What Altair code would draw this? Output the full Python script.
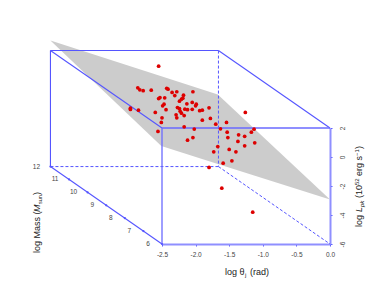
import altair as alt
import pandas as pd

# readings in data units: log theta_j (rad), log L_pk
theta = [-2.55,-2.86,-2.83,-2.78,-2.66,-2.43,-2.41,-2.35,-2.28,-2.31,-2.18,-2.04,-2.53,-2.55,-2.46,-2.19,-2.21,-2.24,-2.13,-2.05,-2.00,-1.99,-2.47,-2.49,-2.27,-2.24,-2.16,-2.12,-2.05,-2.23,-2.44,-1.94,-2.97,-2.97,-2.85,-2.60,-2.21,-2.17,-2.29,-2.28,-2.50,-2.51,-2.17,-2.02,-2.56,-2.04,-2.12,-1.90,-1.80,-1.90,-1.78,-1.70,-1.54,-1.26,-1.63,-1.53,-1.13,-1.17,-1.36,-1.27,-1.52,-1.37,-1.12,-1.27,-1.67,-1.50,-1.73,-1.40,-1.46,-1.59,-1.80,-1.61,-1.15]
lum = [6.26,4.77,4.63,4.57,4.61,4.74,4.68,4.45,4.50,4.24,4.26,4.50,4.10,4.03,4.08,4.06,3.99,3.85,3.67,3.76,3.53,3.64,3.64,3.53,3.41,3.34,3.30,3.26,3.29,3.16,3.26,3.19,3.37,3.28,3.23,3.07,3.02,2.86,2.91,2.70,2.70,2.38,2.08,1.93,1.76,1.34,1.16,3.23,3.39,2.54,2.66,2.26,2.38,3.07,1.94,1.71,1.92,1.71,1.53,1.43,1.34,1.07,0.98,0.77,0.72,0.52,0.36,0.36,-0.26,-0.43,-0.72,-2.15,-3.81]

plane_x = [-4.16,-2.51,-1.67,0.0]
plane_top = [8.03,5.57,4.31,-2.93]
plane_bot = [8.03,0.76,-0.48,-2.93]

front_edges = [(-2.5,2,0,2),(-2.5,-6,-2.5,2)]
solid_edges = [
    (-4.16,7.34,-1.66,7.34),(-4.16,7.34,-4.16,-0.66),
    (-4.16,7.34,-2.5,2),(-1.66,7.34,0,2),(-4.16,-0.66,-2.5,-6),
]
dashed_edges = [(-4.16,-0.66,-1.66,-0.66),(-1.66,7.34,-1.66,-0.66),(-1.66,-0.66,0,-6)]

mass_labels = ["6","7","8","9","10","11","12"]
mass_x = [-2.5,-2.777,-3.053,-3.33,-3.607,-3.883,-4.16]
mass_y = [-6,-5.11,-4.22,-3.33,-2.44,-1.55,-0.66]

BLUE = "#5555ff"
FONT = "Liberation Sans"
W, H = 168, 116
xs = alt.Scale(domain=[-2.5,0], nice=False, zero=False)
ys = alt.Scale(domain=[-6,2], nice=False, zero=False)

xaxis = alt.Axis(values=[-2.5,-2,-1.5,-1,-0.5,0], title=None, grid=False, orient="bottom",
    labelExpr="(datum.value<0?'-':'')+format(abs(datum.value),'.1f')",
    labelFont=FONT, labelFontSize=6.5, labelColor="#444444", labelPadding=5,
    domainColor="#8f8fff", domainWidth=2, tickColor=BLUE, tickSize=2, tickWidth=1, labelFlush=False, labelOverlap=False)
yaxis = alt.Axis(values=[-6,-4,-2,0,2], title=None, grid=False, orient="right",
    labelExpr="''+datum.value", labelAngle=270, labelAlign="center", labelBaseline="middle",
    labelFont=FONT, labelFontSize=6.5, labelColor="#444444", labelPadding=10,
    domainColor="#8f8fff", domainWidth=2, tickColor=BLUE, tickSize=2, tickWidth=1, labelOverlap=False)

X = lambda f="x": alt.X(f, type="quantitative", scale=xs, axis=xaxis)
Y = lambda f="y": alt.Y(f, type="quantitative", scale=ys, axis=yaxis)

plane = alt.Chart(pd.DataFrame({"x":plane_x,"y":plane_top,"y2":plane_bot})).mark_area(color="#cccccc", opacity=1).encode(
    x=X(), y=Y(), y2="y2:Q")

def edge_df(e):
    return pd.DataFrame(e, columns=["x","y","x2","y2"])

front = alt.Chart(edge_df(front_edges)).mark_rule(color="#6a6aff", strokeWidth=1.3).encode(x=X(), y=Y(), x2="x2:Q", y2="y2:Q")
solid = alt.Chart(edge_df(solid_edges)).mark_rule(color=BLUE, strokeWidth=1.1).encode(x=X(), y=Y(), x2="x2:Q", y2="y2:Q")
dashed = alt.Chart(edge_df(dashed_edges)).mark_rule(color=BLUE, strokeWidth=1, strokeDash=[3,2]).encode(x=X(), y=Y(), x2="x2:Q", y2="y2:Q")

mass_df = pd.DataFrame({"x":mass_x,"y":mass_y,"t":mass_labels})
mass_ticks = alt.Chart(mass_df).mark_point(filled=True, color=BLUE, size=5, opacity=1).encode(x=X(), y=Y())
mass_text = alt.Chart(mass_df).mark_text(font=FONT, fontSize=6.5, color="#444444", dx=-14, align="center", baseline="middle").encode(x=X(), y=Y(), text="t:N")

pts = alt.Chart(pd.DataFrame({"x":theta,"y":lum})).mark_circle(color="#dd0000", size=14, opacity=1).encode(x=X(), y=Y())

def seg(text, x, y, size=9, style="normal", angle=0):
    return alt.Chart(pd.DataFrame({"t":[text]})).mark_text(font=FONT, fontSize=size, fontStyle=style, color="#222222",
        align="left", baseline="alphabetic", angle=angle).encode(text="t:N", x=alt.value(x), y=alt.value(y))

ox, oy = 225-162, 275-128
labels = [
    seg("log θ", ox, oy), seg("j", ox+20, oy+2, 6), seg("(rad)", ox+25, oy),
]
rx, ry = 362-162, 227-128
for t,d,off,sz,st in [("log ",0,0,9,"normal"),("L",15,0,9,"italic"),("pk",20,2,6,"italic"),("(10",29,0,9,"normal"),
                      ("52",42,-3,6,"normal"),("erg s",51,0,9,"normal"),("−1",71,-3,6,"normal"),(")",78,0,9,"normal")]:
    labels.append(seg(t, rx+off, ry-d, sz, st, 270))
lx, ly = 40-162, 253-128
for t,d,off,sz,st in [("log Mass (",0,0,9,"normal"),("M",41,0,9,"italic"),("sun",49,2,5.5,"normal"),(")",58,0,9,"normal")]:
    labels.append(seg(t, lx+off, ly-d, sz, st, 270))

chart = alt.layer(plane, solid, dashed, front, mass_ticks, mass_text, pts, *labels).properties(
    width=W, height=H,
    padding={"left":154,"top":120,"right":36,"bottom":55},
    autosize=alt.AutoSizeParams(type="none"),
).configure_view(stroke=None)

chart.save("out.html", embed_options={"renderer":"svg","actions":False})
